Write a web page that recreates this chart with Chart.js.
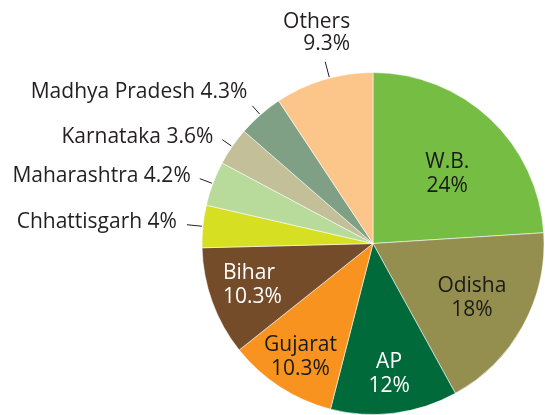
<!DOCTYPE html>
<html>
<head>
<meta charset="utf-8">
<script src="https://cdn.jsdelivr.net/npm/chart.js@4.4.1/dist/chart.umd.min.js"></script>
<style>
  html, body { margin: 0; padding: 0; background: #fff; }
  #wrap { width: 545px; height: 415px; }
</style>
</head>
<body>
<div id="wrap"><canvas id="c"></canvas></div>
<script>
const states = ["W.B.", "Odisha", "AP", "Gujarat", "Bihar", "Chhattisgarh", "Maharashtra", "Karnataka", "Madhya Pradesh", "Others"];
const shares = [24, 18, 12, 10.3, 10.3, 4, 4.2, 3.6, 4.3, 9.3];
const shareText = ["24%", "18%", "12%", "10.3%", "10.3%", "4%", "4.2%", "3.6%", "4.3%", "9.3%"];

const colors = ["#76BE43", "#958F4F", "#006A3B", "#F7931E", "#744C29", "#D7DF22", "#B8DB9B", "#C3BF98", "#7FA084", "#FCC68B"];

// how each label is placed: inside at a radius fraction, or outside with a leader line
const placement = [
  { inside: 0.6, color: "#1a1a1a", dx: 4, dy: 5 },
  { inside: 0.66, color: "#1a1a1a" },
  { inside: 0.75, color: "#ffffff", dy: 3 },
  { inside: 0.78, color: "#1a1a1a", dy: 2 },
  { inside: 0.75, color: "#ffffff", left: 223, dy: -2 },
  { len: 16, dx: -10, dy: -3 },
  { len: 14, dx: -9, dy: -3 },
  { len: 12, dx: -9, dy: -3 },
  { len: 12, dx: -5, dy: -14 },
  { len: 17, dx: 25, dy: -18, turn: -0.035, twoLine: true },
];

const FONT = '21px "Open Sans"';

const labelPlugin = {
  id: "sliceLabels",
  afterDatasetsDraw(chart) {
    const ctx = chart.ctx;
    const arcs = chart.getDatasetMeta(0).data;
    ctx.save();
    ctx.font = FONT;
    ctx.textBaseline = "middle";
    arcs.forEach((arc, i) => {
      const p = placement[i];
      const mid = (arc.startAngle + arc.endAngle) / 2 - (p.turn || 0);
      const cx = arc.x, cy = arc.y, r = arc.outerRadius;
      if (p.inside) {
        let x = cx + Math.cos(mid) * r * p.inside + (p.dx || 0);
        const y = cy + Math.sin(mid) * r * p.inside + (p.dy || 0);
        ctx.fillStyle = p.color;
        ctx.textAlign = "center";
        if (p.left) {
          ctx.textAlign = "left";
          x = chart.chartArea.left + (p.left - 201);
        }
        ctx.fillText(states[i], x, y - 12);
        ctx.fillText(shareText[i], x, y + 12);
      } else {
        const x0 = cx + Math.cos(mid) * (r + 1);
        const y0 = cy + Math.sin(mid) * (r + 1);
        const x1 = cx + Math.cos(mid) * (r + p.len);
        const y1 = cy + Math.sin(mid) * (r + p.len);
        ctx.strokeStyle = "#231F20";
        ctx.lineWidth = 1;
        ctx.beginPath();
        ctx.moveTo(x0, y0);
        ctx.lineTo(x1, y1);
        ctx.stroke();
        ctx.fillStyle = "#231F20";
        ctx.textAlign = "right";
        if (p.twoLine) {
          ctx.fillText(states[i], x1 + p.dx, y1 + p.dy - 22);
          ctx.fillText(shareText[i], x1 + p.dx, y1 + p.dy);
        } else {
          ctx.fillText(states[i] + " " + shareText[i], x1 + p.dx, y1 + p.dy);
        }
      }
    });
    ctx.restore();
  }
};

new Chart(document.getElementById("c"), {
  type: "pie",
  data: {
    labels: states,
    datasets: [
      {
        data: shares,
        backgroundColor: colors,
        borderColor: "rgba(255,255,255,0.55)",
        borderWidth: 1,
        hoverOffset: 0,
        offset: 0,
      },
    ],
  },
  options: {
    responsive: true,
    maintainAspectRatio: false,
    animation: false,
    layout: { padding: { left: 201, right: 0, top: 72, bottom: 0 } },
    plugins: {
      legend: { display: false },
      tooltip: { enabled: false },
      title: { display: false },
    },
  },
  plugins: [labelPlugin],
});
</script>
</body>
</html>
